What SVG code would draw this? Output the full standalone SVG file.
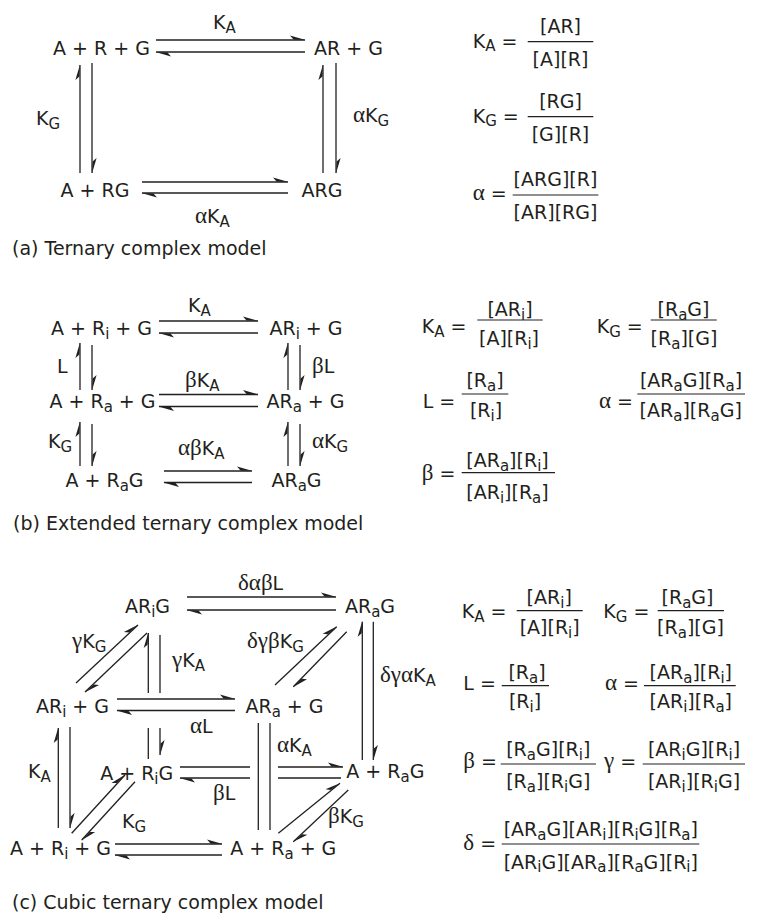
<svg xmlns="http://www.w3.org/2000/svg" width="758" height="914" viewBox="0 0 758 914">
<defs>
<style>
text{font-family:"DejaVu Sans","Liberation Sans",sans-serif;font-size:19px;fill:#231f20}
.m{text-anchor:middle}
.s{font-size:15px}
.g{font-family:"Liberation Serif","DejaVu Serif",serif;font-size:23px}
.c{stroke:#231f20;stroke-width:1.3;fill:none}
.a{marker-end:url(#h)}
.f{stroke:#231f20;stroke-width:1.2}
</style>
<marker id="h" markerUnits="userSpaceOnUse" orient="auto" overflow="visible" markerWidth="1" markerHeight="1" refX="0" refY="0">
<path d="M0.6,0 L-15,-4.6 L-11.5,-0.6 Z" fill="#231f20"/>
</marker>
</defs>
<rect width="758" height="914" fill="#fff"/>

<g id="connectors">
<!-- (a) -->
<path class="c a" d="M156,40 H305"/>
<path class="c a" d="M305,52 H156"/>
<path class="c a" d="M80,173 V65"/>
<path class="c a" d="M92,63 V173"/>
<path class="c a" d="M323,173 V65"/>
<path class="c a" d="M336,63 V173"/>
<path class="c a" d="M142,182 H288"/>
<path class="c a" d="M288,193 H142"/>
<!-- (b) -->
<path class="c a" d="M159,321 H258"/>
<path class="c a" d="M258,333 H159"/>
<path class="c a" d="M159,394.5 H258"/>
<path class="c a" d="M258,406.5 H159"/>
<path class="c a" d="M164,471 H252"/>
<path class="c a" d="M252,482.5 H164"/>
<path class="c a" d="M80,390 V343"/>
<path class="c a" d="M92,345 V390"/>
<path class="c a" d="M288,390 V343"/>
<path class="c a" d="M300,345 V390"/>
<path class="c a" d="M80,466 V422"/>
<path class="c a" d="M92,424 V466"/>
<path class="c a" d="M288,466 V422"/>
<path class="c a" d="M300,424 V466"/>
<!-- (c) -->
<path class="c a" d="M187,597 H336"/>
<path class="c a" d="M336,610 H187"/>
<path class="c a" d="M76,683 L138,625"/>
<path class="c a" d="M147,633 L85,692"/>
<path class="c a" d="M148.3,759 V728 M148.3,693 V633"/>
<path class="c a" d="M160,635 V693 M160,728 V755"/>
<path class="c a" d="M117,699 H235"/>
<path class="c a" d="M235,710.5 H117"/>
<path class="c a" d="M275,685 L336.7,626.7"/>
<path class="c a" d="M346.7,631.7 L293.3,686.7"/>
<path class="c a" d="M362.3,760 V621.7"/>
<path class="c a" d="M373.3,621.7 V760"/>
<path class="c" d="M258.3,723 V830"/>
<path class="c" d="M270,723 V830"/>
<path class="c a" d="M180,767 H250 M278,767 H343"/>
<path class="c a" d="M341,778 H278 M250,778 H180"/>
<path class="c a" d="M58.3,828 V728"/>
<path class="c a" d="M70,727 V828"/>
<path class="c a" d="M71.7,833.3 L125,775"/>
<path class="c a" d="M135,781.7 L81.7,840"/>
<path class="c a" d="M115,844 H222"/>
<path class="c a" d="M222,855 H115"/>
<path class="c a" d="M278.3,833.3 L340,783.3"/>
<path class="c a" d="M348.3,790 L293.3,841.7"/>
</g>

<g id="labels">
<text x="213" y="29">K<tspan class="s" dy="3.5">A</tspan></text>
<text x="36" y="125">K<tspan class="s" dy="3.5">G</tspan></text>
<text x="353" y="122"><tspan class="g">α</tspan>K<tspan class="s" dy="3.5">G</tspan></text>
<text x="195" y="223"><tspan class="g">α</tspan>K<tspan class="s" dy="3.5">A</tspan></text>

<text x="188" y="312">K<tspan class="s" dy="3.5">A</tspan></text>
<text x="57" y="373">L</text>
<text x="312" y="373"><tspan class="g">β</tspan>L</text>
<text x="185" y="387"><tspan class="g">β</tspan>K<tspan class="s" dy="3.5">A</tspan></text>
<text x="48" y="448">K<tspan class="s" dy="3.5">G</tspan></text>
<text x="312" y="448"><tspan class="g">α</tspan>K<tspan class="s" dy="3.5">G</tspan></text>
<text x="178" y="455"><tspan class="g">αβ</tspan>K<tspan class="s" dy="3.5">A</tspan></text>

<text x="238" y="590"><tspan class="g">δαβ</tspan>L</text>
<text x="72" y="648"><tspan class="g">γ</tspan>K<tspan class="s" dy="3.5">G</tspan></text>
<text x="172" y="667"><tspan class="g">γ</tspan>K<tspan class="s" dy="3.5">A</tspan></text>
<text x="247" y="648"><tspan class="g">δγβ</tspan>K<tspan class="s" dy="3.5">G</tspan></text>
<text x="380" y="682"><tspan class="g">δγα</tspan>K<tspan class="s" dy="3.5">A</tspan></text>
<text x="190" y="733"><tspan class="g">α</tspan>L</text>
<text x="277" y="752"><tspan class="g">α</tspan>K<tspan class="s" dy="3.5">A</tspan></text>
<text x="28" y="778">K<tspan class="s" dy="3.5">A</tspan></text>
<text x="213" y="800"><tspan class="g">β</tspan>L</text>
<text x="122" y="828">K<tspan class="s" dy="3.5">G</tspan></text>
<text x="328" y="823"><tspan class="g">β</tspan>K<tspan class="s" dy="3.5">G</tspan></text>
</g>

<!-- (a) nodes -->
<g id="a_A_R_G"><text class="m" x="101.5" y="55">A + R + G</text></g>
<g id="a_AR_G"><text class="m" x="348.5" y="55">AR + G</text></g>
<g id="a_A_RG"><text class="m" x="95" y="197">A + RG</text></g>
<g id="a_ARG"><text class="m" x="322" y="197">ARG</text></g>

<!-- (b) nodes -->
<g id="b_A_Ri_G"><text class="m" x="101.5" y="335">A + R<tspan class="s" dy="3.5">i</tspan><tspan dy="-3.5"> + G</tspan></text></g>
<g id="b_ARi_G"><text class="m" x="306" y="335">AR<tspan class="s" dy="3.5">i</tspan><tspan dy="-3.5"> + G</tspan></text></g>
<g id="b_A_Ra_G"><text class="m" x="102.5" y="408">A + R<tspan class="s" dy="3.5">a</tspan><tspan dy="-3.5"> + G</tspan></text></g>
<g id="b_ARa_G"><text class="m" x="305.5" y="408">AR<tspan class="s" dy="3.5">a</tspan><tspan dy="-3.5"> + G</tspan></text></g>
<g id="b_A_RaG"><text class="m" x="104.5" y="487">A + R<tspan class="s" dy="3.5">a</tspan><tspan dy="-3.5">G</tspan></text></g>
<g id="b_ARaG"><text class="m" x="296.5" y="487">AR<tspan class="s" dy="3.5">a</tspan><tspan dy="-3.5">G</tspan></text></g>

<!-- (c) nodes -->
<g id="c_ARiG"><text class="m" x="147.5" y="613">AR<tspan class="s" dy="3.5">i</tspan><tspan dy="-3.5">G</tspan></text></g>
<g id="c_ARaG"><text class="m" x="370" y="613">AR<tspan class="s" dy="3.5">a</tspan><tspan dy="-3.5">G</tspan></text></g>
<g id="c_ARi_G"><text class="m" x="72.5" y="713">AR<tspan class="s" dy="3.5">i</tspan><tspan dy="-3.5"> + G</tspan></text></g>
<g id="c_ARa_G"><text class="m" x="284.5" y="713">AR<tspan class="s" dy="3.5">a</tspan><tspan dy="-3.5"> + G</tspan></text></g>
<g id="c_A_RiG"><text class="m" x="136.7" y="780">A + R<tspan class="s" dy="3.5">i</tspan><tspan dy="-3.5">G</tspan></text></g>
<g id="c_A_RaG"><text class="m" x="385.3" y="778">A + R<tspan class="s" dy="3.5">a</tspan><tspan dy="-3.5">G</tspan></text></g>
<g id="c_A_Ri_G"><text class="m" x="60.5" y="855">A + R<tspan class="s" dy="3.5">i</tspan><tspan dy="-3.5"> + G</tspan></text></g>
<g id="c_A_Ra_G"><text class="m" x="283.3" y="855">A + R<tspan class="s" dy="3.5">a</tspan><tspan dy="-3.5"> + G</tspan></text></g>

<!-- captions -->
<g id="captions">
<text x="12" y="255">(a) Ternary complex model</text>
<text x="13" y="530">(b) Extended ternary complex model</text>
<text x="12" y="909">(c) Cubic ternary complex model</text>
</g>

<!-- (a) equations -->
<g id="eq_a">
<text x="472.7" y="47.5">K<tspan class="s" dy="3.5">A</tspan><tspan dy="-3.5"> =</tspan></text>
<line class="f" x1="527.7" y1="41.7" x2="593.3" y2="41.7"/>
<text class="m" x="560.5" y="32.5">[AR]</text>
<text class="m" x="560.5" y="65.5">[A][R]</text>

<text x="472.7" y="122.5">K<tspan class="s" dy="3.5">G</tspan><tspan dy="-3.5"> =</tspan></text>
<line class="f" x1="527.7" y1="116.7" x2="593.3" y2="116.7"/>
<text class="m" x="560.5" y="107.5">[RG]</text>
<text class="m" x="560.5" y="140.5">[G][R]</text>

<text x="472.7" y="200"><tspan class="g">α</tspan> =</text>
<line class="f" x1="512.7" y1="195" x2="598.3" y2="195"/>
<text class="m" x="555.5" y="185.5">[ARG][R]</text>
<text class="m" x="555.5" y="219">[AR][RG]</text>
</g>

<!-- (b) equations -->
<g id="eq_b">
<text x="421.7" y="333">K<tspan class="s" dy="3.5">A</tspan><tspan dy="-3.5"> =</tspan></text>
<line class="f" x1="477.3" y1="320" x2="542.7" y2="320"/>
<text class="m" x="510" y="316">[AR<tspan class="s" dy="3.5">i</tspan><tspan dy="-3.5">]</tspan></text>
<text class="m" x="509" y="345">[A][R<tspan class="s" dy="3.5">i</tspan><tspan dy="-3.5">]</tspan></text>

<text x="596.7" y="333">K<tspan class="s" dy="3.5">G</tspan><tspan dy="-3.5"> =</tspan></text>
<line class="f" x1="650.7" y1="320" x2="716.7" y2="320"/>
<text class="m" x="683.5" y="316">[R<tspan class="s" dy="3.5">a</tspan><tspan dy="-3.5">G]</tspan></text>
<text class="m" x="684" y="345">[R<tspan class="s" dy="3.5">a</tspan><tspan dy="-3.5">][G]</tspan></text>

<text x="422.7" y="408">L =</text>
<line class="f" x1="461.7" y1="394" x2="508.3" y2="394"/>
<text class="m" x="485" y="387">[R<tspan class="s" dy="3.5">a</tspan><tspan dy="-3.5">]</tspan></text>
<text class="m" x="486" y="417">[R<tspan class="s" dy="3.5">i</tspan><tspan dy="-3.5">]</tspan></text>

<text x="599" y="408"><tspan class="g">α</tspan> =</text>
<line class="f" x1="637.3" y1="394" x2="745" y2="394"/>
<text class="m" x="691" y="387">[AR<tspan class="s" dy="3.5">a</tspan><tspan dy="-3.5">G][R</tspan><tspan class="s" dy="3.5">a</tspan><tspan dy="-3.5">]</tspan></text>
<text class="m" x="690.7" y="417">[AR<tspan class="s" dy="3.5">a</tspan><tspan dy="-3.5">][R</tspan><tspan class="s" dy="3.5">a</tspan><tspan dy="-3.5">G]</tspan></text>

<text x="421.7" y="480"><tspan class="g">β</tspan> =</text>
<line class="f" x1="461.7" y1="472.7" x2="555" y2="472.7"/>
<text class="m" x="507.5" y="467">[AR<tspan class="s" dy="3.5">a</tspan><tspan dy="-3.5">][R</tspan><tspan class="s" dy="3.5">i</tspan><tspan dy="-3.5">]</tspan></text>
<text class="m" x="507.5" y="499">[AR<tspan class="s" dy="3.5">i</tspan><tspan dy="-3.5">][R</tspan><tspan class="s" dy="3.5">a</tspan><tspan dy="-3.5">]</tspan></text>
</g>

<!-- (c) equations -->
<g id="eq_c">
<text x="461.7" y="618.3">K<tspan class="s" dy="3.5">A</tspan><tspan dy="-3.5"> =</tspan></text>
<line class="f" x1="516.7" y1="610.7" x2="582.7" y2="610.7"/>
<text class="m" x="549.2" y="604">[AR<tspan class="s" dy="3.5">i</tspan><tspan dy="-3.5">]</tspan></text>
<text class="m" x="549.7" y="634">[A][R<tspan class="s" dy="3.5">i</tspan><tspan dy="-3.5">]</tspan></text>

<text x="603.3" y="618.3">K<tspan class="s" dy="3.5">G</tspan><tspan dy="-3.5"> =</tspan></text>
<line class="f" x1="657.7" y1="610.7" x2="724" y2="610.7"/>
<text class="m" x="687.5" y="604">[R<tspan class="s" dy="3.5">a</tspan><tspan dy="-3.5">G]</tspan></text>
<text class="m" x="690.5" y="634">[R<tspan class="s" dy="3.5">a</tspan><tspan dy="-3.5">][G]</tspan></text>

<text x="463.3" y="690">L =</text>
<line class="f" x1="501.7" y1="685.7" x2="549" y2="685.7"/>
<text class="m" x="527" y="679">[R<tspan class="s" dy="3.5">a</tspan><tspan dy="-3.5">]</tspan></text>
<text class="m" x="525" y="708">[R<tspan class="s" dy="3.5">i</tspan><tspan dy="-3.5">]</tspan></text>

<text x="605" y="690"><tspan class="g">α</tspan> =</text>
<line class="f" x1="644" y1="685.7" x2="735.7" y2="685.7"/>
<text class="m" x="690.8" y="679">[AR<tspan class="s" dy="3.5">a</tspan><tspan dy="-3.5">][R</tspan><tspan class="s" dy="3.5">i</tspan><tspan dy="-3.5">]</tspan></text>
<text class="m" x="690.8" y="708">[AR<tspan class="s" dy="3.5">i</tspan><tspan dy="-3.5">][R</tspan><tspan class="s" dy="3.5">a</tspan><tspan dy="-3.5">]</tspan></text>

<text x="463.3" y="768"><tspan class="g">β</tspan> =</text>
<line class="f" x1="500.7" y1="764" x2="596" y2="764"/>
<text class="m" x="548.3" y="756">[R<tspan class="s" dy="3.5">a</tspan><tspan dy="-3.5">G][R</tspan><tspan class="s" dy="3.5">i</tspan><tspan dy="-3.5">]</tspan></text>
<text class="m" x="548.3" y="788">[R<tspan class="s" dy="3.5">a</tspan><tspan dy="-3.5">][R</tspan><tspan class="s" dy="3.5">i</tspan><tspan dy="-3.5">G]</tspan></text>

<text x="604" y="768"><tspan class="g">γ</tspan> =</text>
<line class="f" x1="642.7" y1="764" x2="745" y2="764"/>
<text class="m" x="694" y="756">[AR<tspan class="s" dy="3.5">i</tspan><tspan dy="-3.5">G][R</tspan><tspan class="s" dy="3.5">i</tspan><tspan dy="-3.5">]</tspan></text>
<text class="m" x="694" y="788">[AR<tspan class="s" dy="3.5">i</tspan><tspan dy="-3.5">][R</tspan><tspan class="s" dy="3.5">i</tspan><tspan dy="-3.5">G]</tspan></text>

<text x="463.3" y="850"><tspan class="g">δ</tspan> =</text>
<line class="f" x1="501.7" y1="844" x2="699.3" y2="844"/>
<text class="m" x="600.8" y="836">[AR<tspan class="s" dy="3.5">a</tspan><tspan dy="-3.5">G][AR</tspan><tspan class="s" dy="3.5">i</tspan><tspan dy="-3.5">][R</tspan><tspan class="s" dy="3.5">i</tspan><tspan dy="-3.5">G][R</tspan><tspan class="s" dy="3.5">a</tspan><tspan dy="-3.5">]</tspan></text>
<text class="m" x="600.8" y="868.5">[AR<tspan class="s" dy="3.5">i</tspan><tspan dy="-3.5">G][AR</tspan><tspan class="s" dy="3.5">a</tspan><tspan dy="-3.5">][R</tspan><tspan class="s" dy="3.5">a</tspan><tspan dy="-3.5">G][R</tspan><tspan class="s" dy="3.5">i</tspan><tspan dy="-3.5">]</tspan></text>
</g>
</svg>
